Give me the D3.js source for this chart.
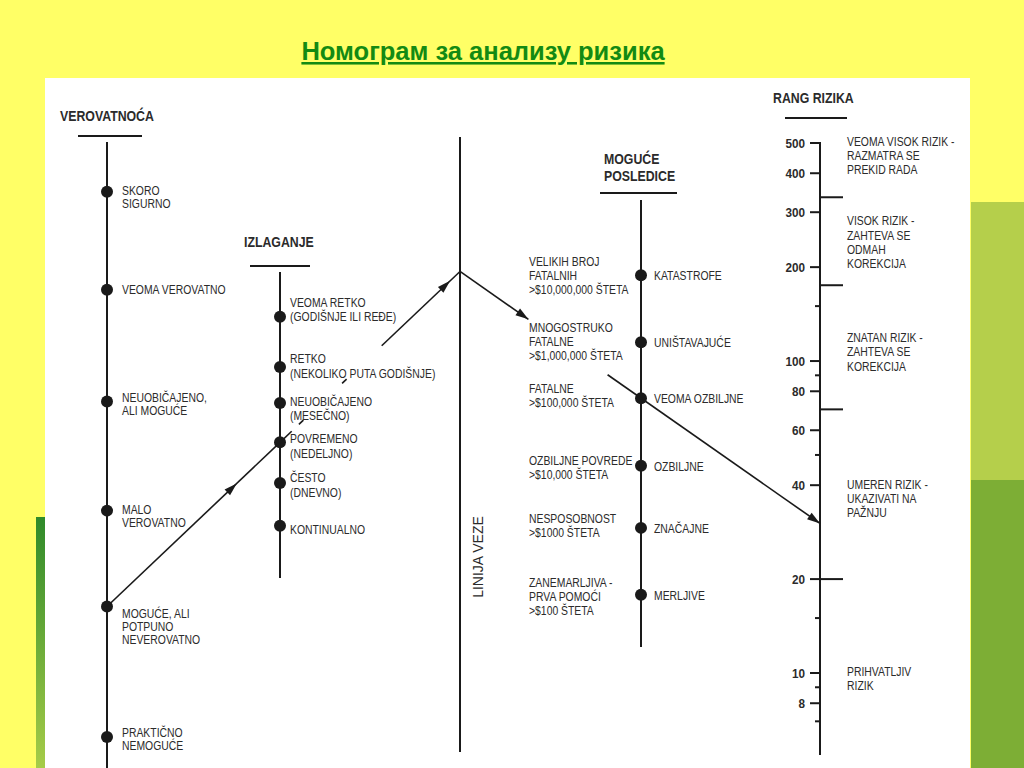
<!DOCTYPE html>
<html>
<head>
  <meta charset="utf-8">
  <title>Номограм за анализу ризика</title>
  <style>
    body { margin: 0; background: #ffff66; }
    svg text { font-family: "Liberation Sans Narrow", "Arial Narrow", "Liberation Sans", Arial, sans-serif; fill: #2b2b2b; }
  </style>
</head>
<body>
  <svg width="1024" height="768"></svg>

  <script src="https://cdn.jsdelivr.net/npm/d3@7/dist/d3.min.js"></script>
  <script type="text/javascript">
    // scale readings (0..100 along the drawing height) for each category dot
    var probLabels = [["SKORO", "SIGURNO"], ["VEOMA VEROVATNO"], ["NEUOBIČAJENO,", "ALI MOGUĆE"],
      ["MALO", "VEROVATNO"], ["MOGUĆE, ALI", "POTPUNO", "NEVEROVATNO"], ["PRAKTIČNO", "NEMOGUĆE"]]
    var probLevels = [83.5, 69.3, 53.1, 37.3, 23.4, 4.5]

    var expLabels = [["VEOMA RETKO", "(GODIŠNJE ILI REĐE)"], ["RETKO", "(NEKOLIKO PUTA GODIŠNJE)"],
      ["NEUOBIČAJENO", "(MESEČNO)"], ["POVREMENO", "(NEDELJNO)"], ["ČESTO", "(DNEVNO)"], ["KONTINUALNO"]]
    var expLevels = [65.4, 58.1, 52.9, 47.2, 41.3, 35.1]

    var conLabels = ["KATASTROFE", "UNIŠTAVAJUĆE", "VEOMA OZBILJNE", "OZBILJNE", "ZNAČAJNE", "MERLJIVE"]
    var conDescr = [["VELIKIH BROJ", "FATALNIH", ">$10,000,000 ŠTETA"], ["MNOGOSTRUKO", "FATALNE", ">$1,000,000 ŠTETA"],
      ["FATALNE", ">$100,000 ŠTETA"], ["OZBILJNE POVREDE", ">$10,000 ŠTETA"], ["NESPOSOBNOST", ">$1000 ŠTETA"],
      ["ZANEMARLJIVA -", "PRVA POMOĆI", ">$100 ŠTETA"]]
    var conLevels = [71.4, 61.7, 53.6, 43.8, 34.8, 25.1]

    var riskTicks = [500, 400, 300, 200, 100, 80, 60, 40, 20, 10, 8]
    var riskMinor = [150, 90, 50, 15, 9, 7]
    var riskBounds = [335, 175, 70, 20]
    var riskClasses = [["VEOMA VISOK RIZIK -", "RAZMATRA SE", "PREKID RADA"], ["VISOK RIZIK -", "ZAHTEVA SE", "ODMAH", "KOREKCIJA"],
      ["ZNATAN RIZIK -", "ZAHTEVA SE", "KOREKCIJA"], ["UMEREN RIZIK -", "UKAZIVATI NA", "PAŽNJU"], ["PRIHVATLJIV", "RIZIK"]]
    var riskClassAt = [490, 272, 115, 39, 9.8]

    // the worked example: chosen probability, exposure and consequence
    var chosen = {prob: 4, exp: 3, con: 2}

    var svg = d3.select("svg")

    // slide background
    svg.append("rect").attr("x", 971).attr("y", 202).attr("width", 53).attr("height", 278).attr("fill", "#b5cf4b")
    svg.append("rect").attr("x", 971).attr("y", 480).attr("width", 53).attr("height", 288).attr("fill", "#7dae35")
    var grad = svg.append("defs").append("linearGradient").attr("id", "strip").attr("x1", 0).attr("y1", 0).attr("x2", 0).attr("y2", 1)
    grad.append("stop").attr("offset", 0).attr("stop-color", "#2f8a2a")
    grad.append("stop").attr("offset", 1).attr("stop-color", "#a6cc48")
    svg.append("rect").attr("x", 36).attr("y", 517).attr("width", 10).attr("height", 251).attr("fill", "url(#strip)")
    svg.append("rect").attr("x", 45).attr("y", 78).attr("width", 925).attr("height", 690).attr("fill", "#fff")

    svg.append("text").attr("x", 483).attr("y", 60).attr("text-anchor", "middle")
      .style("font-family", "'Liberation Sans', Arial, sans-serif").style("font-size", "25.5px").style("font-weight", "bold")
      .style("fill", "#138a13").style("text-decoration", "underline")
      .text("Номограм за анализу ризика")

    var y = d3.scaleLinear().domain([0, 100]).range([768, 78])
    var yRisk = d3.scaleLog().domain([10, 500]).range([673, 143])

    var xProb = 107, xExp = 280, xLink = 460, xCon = 641, xRisk = 820
    var narrow = 0.8   // the scan uses a condensed face; squeeze the regular one

    var ink = "#1a1a1a"
    function vline(x, y0, y1, w) {
      svg.append("line").attr("x1", x).attr("x2", x).attr("y1", y0).attr("y2", y1)
        .attr("stroke", ink).attr("stroke-width", w || 2)
    }
    function header(x, lines, y0, ux0, ux1, uy) {
      lines.forEach(function (t, i) {
        svg.append("text").attr("transform", "translate(" + x + "," + (y0 + i * 17) + ") scale(0.88,1)").text(t)
          .style("font-size", "14px").style("font-weight", "bold")
      })
      svg.append("line").attr("x1", ux0).attr("x2", ux1).attr("y1", uy).attr("y2", uy)
        .attr("stroke", ink).attr("stroke-width", 2)
    }
    function textBlock(x, yy, lines, lh) {
      var t = svg.append("text").attr("transform", "translate(" + x + "," + yy + ") scale(" + narrow + ",1)")
        .style("font-size", "13px")
      lines.forEach(function (s, i) {
        t.append("tspan").attr("x", 0).attr("y", i * lh).text(s)
      })
    }
    function dots(x, levels) {
      svg.append("g").selectAll("circle").data(levels).enter().append("circle")
        .attr("cx", x).attr("cy", function (d) { return y(d) }).attr("r", 6).attr("fill", ink)
    }

    // VEROVATNOĆA
    header(60, ["VEROVATNOĆA"], 121, 78, 142, 136)
    vline(xProb, 142, 768)
    dots(xProb, probLevels)
    var probDy = [3, 4, 0, 3, 11, 0]
    probLabels.forEach(function (l, i) { textBlock(122, y(probLevels[i]) + probDy[i], l, 13) })

    // IZLAGANJE
    header(244, ["IZLAGANJE"], 247, 250, 310, 266)
    vline(xExp, 272, 578)
    dots(xExp, expLevels)
    var expDy = [-10, -4, 3, 1, -1, 8]
    expLabels.forEach(function (l, i) { textBlock(290, y(expLevels[i]) + expDy[i], l, 14.5) })

    // LINIJA VEZE
    vline(xLink, 137, 752)
    svg.append("text").attr("transform", "translate(483,557) rotate(-90)").attr("text-anchor", "middle")
      .style("font-size", "14px").text("LINIJA VEZE")

    // MOGUĆE POSLEDICE
    header(604, ["MOGUĆE", "POSLEDICE"], 164, 600, 677, 193)
    vline(xCon, 200, 647)
    dots(xCon, conLevels)
    conLabels.forEach(function (l, i) { textBlock(654, y(conLevels[i]) + 5, [l], 14) })
    var conDy = [-9, -10, -5, -1, -5, -8]
    conDescr.forEach(function (l, i) { textBlock(529, y(conLevels[i]) + conDy[i], l, 14) })

    // RANG RIZIKA
    header(773, ["RANG RIZIKA"], 103, 785, 847, 118)
    vline(xRisk, 142, 755)
    var rg = svg.append("g")
    rg.selectAll(".maj").data(riskTicks).enter().append("line").attr("class", "maj")
      .attr("x1", xRisk - 10).attr("x2", xRisk).attr("y1", function (d) { return yRisk(d) }).attr("y2", function (d) { return yRisk(d) })
      .attr("stroke", ink).attr("stroke-width", 2)
    rg.selectAll(".min").data(riskMinor).enter().append("line").attr("class", "min")
      .attr("x1", xRisk - 5).attr("x2", xRisk).attr("y1", function (d) { return yRisk(d) }).attr("y2", function (d) { return yRisk(d) })
      .attr("stroke", ink).attr("stroke-width", 2)
    rg.selectAll(".bnd").data(riskBounds).enter().append("line").attr("class", "bnd")
      .attr("x1", xRisk).attr("x2", xRisk + 23).attr("y1", function (d) { return yRisk(d) }).attr("y2", function (d) { return yRisk(d) })
      .attr("stroke", ink).attr("stroke-width", 2)
    rg.selectAll("text").data(riskTicks).enter().append("text")
      .attr("transform", function (d) { return "translate(805," + (yRisk(d) + 4.5) + ") scale(0.9,1)" })
      .attr("text-anchor", "end")
      .style("font-size", "13px").style("font-weight", "bold").text(function (d) { return d })
    riskClasses.forEach(function (l, i) { textBlock(847, yRisk(riskClassAt[i]), l, 14.3) })

    // worked example: straight lines through the chosen points
    var pA = [xProb, y(probLevels[chosen.prob])]
    var pB = [xExp, y(expLevels[chosen.exp])]
    var slope1 = (pB[1] - pA[1]) / (pB[0] - pA[0])
    var pL = [xLink, pB[1] + slope1 * (xLink - xExp)]
    var pC = [xCon, y(conLevels[chosen.con])]
    var slope2 = (pC[1] - pL[1]) / (pC[0] - pL[0])
    var pR = [xRisk, pL[1] + slope2 * (xRisk - xLink)]

    function lerp(a, b, t) { return [a[0] + (b[0] - a[0]) * t, a[1] + (b[1] - a[1]) * t] }
    function piece(a, b, t0, t1) {
      var s = lerp(a, b, t0), e = lerp(a, b, t1)
      svg.append("line").attr("x1", s[0]).attr("y1", s[1]).attr("x2", e[0]).attr("y2", e[1])
        .attr("stroke", ink).attr("stroke-width", 1.6)
    }
    function head(a, b, t) {
      var tip = lerp(a, b, t)
      var ang = Math.atan2(b[1] - a[1], b[0] - a[0]) * 180 / Math.PI
      svg.append("path").attr("d", "M0,0L-13,-4L-13,4Z").attr("fill", ink)
        .attr("transform", "translate(" + tip[0] + "," + tip[1] + ") rotate(" + ang + ")")
    }
    piece(pA, pB, 0, 1)
    head(pA, pB, 0.75)
    ;[[0, 0.065], [0.105, 0.13], [0.345, 0.37], [0.565, 1]].forEach(function (r) { piece(pB, pL, r[0], r[1]) })
    head(pB, pL, 0.945)
    ;[[0, 0.19], [0.41, 1]].forEach(function (r) { piece(pL, pR, r[0], r[1]) })
    head(pL, pR, 0.19)
    head(pL, pR, 1)
  </script>
</body>
</html>
